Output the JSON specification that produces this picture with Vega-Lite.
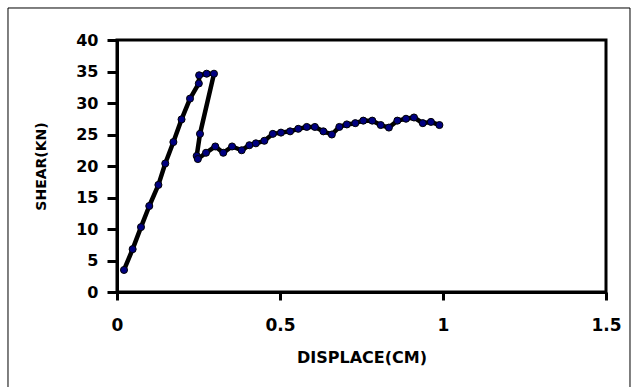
{
  "$schema": "https://vega.github.io/schema/vega-lite/v6.json",
  "width": 489,
  "height": 252,
  "autosize": {"type": "none"},
  "padding": {"left": 117, "top": 40, "right": 28, "bottom": 95},
  "background": "white",
  "config": {
    "view": {"stroke": "black", "strokeWidth": 3},
    "axis": {
      "grid": false,
      "domainColor": "black",
      "domainWidth": 3,
      "tickColor": "black",
      "tickWidth": 3,
      "labelFont": "DejaVu Sans",
      "labelFontWeight": "bold",
      "labelColor": "black",
      "labelFlush": false,
      "labelOverlap": false,
      "titleFont": "DejaVu Sans",
      "titleFontWeight": "bold",
      "titleColor": "black"
    },
    "axisX": {"labelFontSize": 17, "tickSize": 8, "labelPadding": 17, "titleFontSize": 16, "titlePadding": 16},
    "axisY": {"labelFontSize": 16, "tickSize": 10, "labelPadding": 9, "titleFontSize": 14, "titlePadding": 27}
  },
  "datasets": {
    "curve": [
      {"i": 1, "d": 0.0215, "s": 3.5},
      {"i": 2, "d": 0.048, "s": 6.8},
      {"i": 3, "d": 0.0736, "s": 10.3},
      {"i": 4, "d": 0.099, "s": 13.65},
      {"i": 5, "d": 0.127, "s": 17.0},
      {"i": 6, "d": 0.148, "s": 20.4},
      {"i": 7, "d": 0.173, "s": 23.8},
      {"i": 8, "d": 0.198, "s": 27.4},
      {"i": 9, "d": 0.224, "s": 30.7},
      {"i": 10, "d": 0.251, "s": 33.1},
      {"i": 11, "d": 0.252, "s": 34.4},
      {"i": 12, "d": 0.275, "s": 34.65},
      {"i": 13, "d": 0.2975, "s": 34.65},
      {"i": 14, "d": 0.2546, "s": 25.1},
      {"i": 15, "d": 0.2445, "s": 21.6},
      {"i": 16, "d": 0.248, "s": 21.1},
      {"i": 17, "d": 0.273, "s": 22.1},
      {"i": 18, "d": 0.3015, "s": 23.1},
      {"i": 19, "d": 0.326, "s": 22.1},
      {"i": 20, "d": 0.353, "s": 23.1},
      {"i": 21, "d": 0.3825, "s": 22.5},
      {"i": 22, "d": 0.406, "s": 23.3},
      {"i": 23, "d": 0.426, "s": 23.6},
      {"i": 24, "d": 0.452, "s": 24.0},
      {"i": 25, "d": 0.478, "s": 25.1},
      {"i": 26, "d": 0.503, "s": 25.3},
      {"i": 27, "d": 0.531, "s": 25.5},
      {"i": 28, "d": 0.556, "s": 25.9},
      {"i": 29, "d": 0.582, "s": 26.2},
      {"i": 30, "d": 0.607, "s": 26.2},
      {"i": 31, "d": 0.633, "s": 25.5},
      {"i": 32, "d": 0.659, "s": 25.0},
      {"i": 33, "d": 0.682, "s": 26.2},
      {"i": 34, "d": 0.705, "s": 26.6},
      {"i": 35, "d": 0.731, "s": 26.8},
      {"i": 36, "d": 0.7555, "s": 27.2},
      {"i": 37, "d": 0.783, "s": 27.2},
      {"i": 38, "d": 0.809, "s": 26.5},
      {"i": 39, "d": 0.834, "s": 26.1},
      {"i": 40, "d": 0.86, "s": 27.2},
      {"i": 41, "d": 0.8865, "s": 27.5},
      {"i": 42, "d": 0.911, "s": 27.7},
      {"i": 43, "d": 0.938, "s": 26.8},
      {"i": 44, "d": 0.963, "s": 27.0},
      {"i": 45, "d": 0.989, "s": 26.5}
    ],
    "frame": [{"x1": -0.3344, "x2": 1.5736, "y1": 45.08, "y2": -15.5}]
  },
  "layer": [
    {
      "data": {"name": "curve"},
      "mark": {"type": "line", "color": "black", "strokeWidth": 4.5, "strokeJoin": "round", "strokeCap": "round"},
      "encoding": {
        "x": {"field": "d", "type": "quantitative", "title": "DISPLACE(CM)", "scale": {"domain": [0, 1.5], "nice": false, "zero": false}, "axis": {"values": [0, 0.5, 1, 1.5], "format": "~g"}},
        "y": {"field": "s", "type": "quantitative", "title": "SHEAR(KN)", "scale": {"domain": [0, 40], "nice": false}, "axis": {"values": [0, 5, 10, 15, 20, 25, 30, 35, 40]}},
        "order": {"field": "i", "type": "quantitative"}
      }
    },
    {
      "data": {"name": "curve"},
      "mark": {"type": "point", "shape": "circle", "filled": true, "fill": "#000080", "stroke": "black", "strokeWidth": 1, "size": 50, "opacity": 1},
      "encoding": {
        "x": {"field": "d", "type": "quantitative", "title": "DISPLACE(CM)", "scale": {"domain": [0, 1.5], "nice": false, "zero": false}, "axis": {"values": [0, 0.5, 1, 1.5], "format": "~g"}},
        "y": {"field": "s", "type": "quantitative", "title": "SHEAR(KN)", "scale": {"domain": [0, 40], "nice": false}, "axis": {"values": [0, 5, 10, 15, 20, 25, 30, 35, 40]}}
      }
    },
    {
      "data": {"name": "frame"},
      "mark": {"type": "rect", "fill": "transparent", "stroke": "black", "strokeWidth": 1, "clip": false},
      "encoding": {
        "x": {"field": "x1", "type": "quantitative", "title": "DISPLACE(CM)", "scale": {"domain": [0, 1.5], "nice": false, "zero": false}, "axis": {"values": [0, 0.5, 1, 1.5], "format": "~g"}},
        "x2": {"field": "x2"},
        "y": {"field": "y1", "type": "quantitative", "title": "SHEAR(KN)", "scale": {"domain": [0, 40], "nice": false}, "axis": {"values": [0, 5, 10, 15, 20, 25, 30, 35, 40]}},
        "y2": {"field": "y2"}
      }
    }
  ]
}
